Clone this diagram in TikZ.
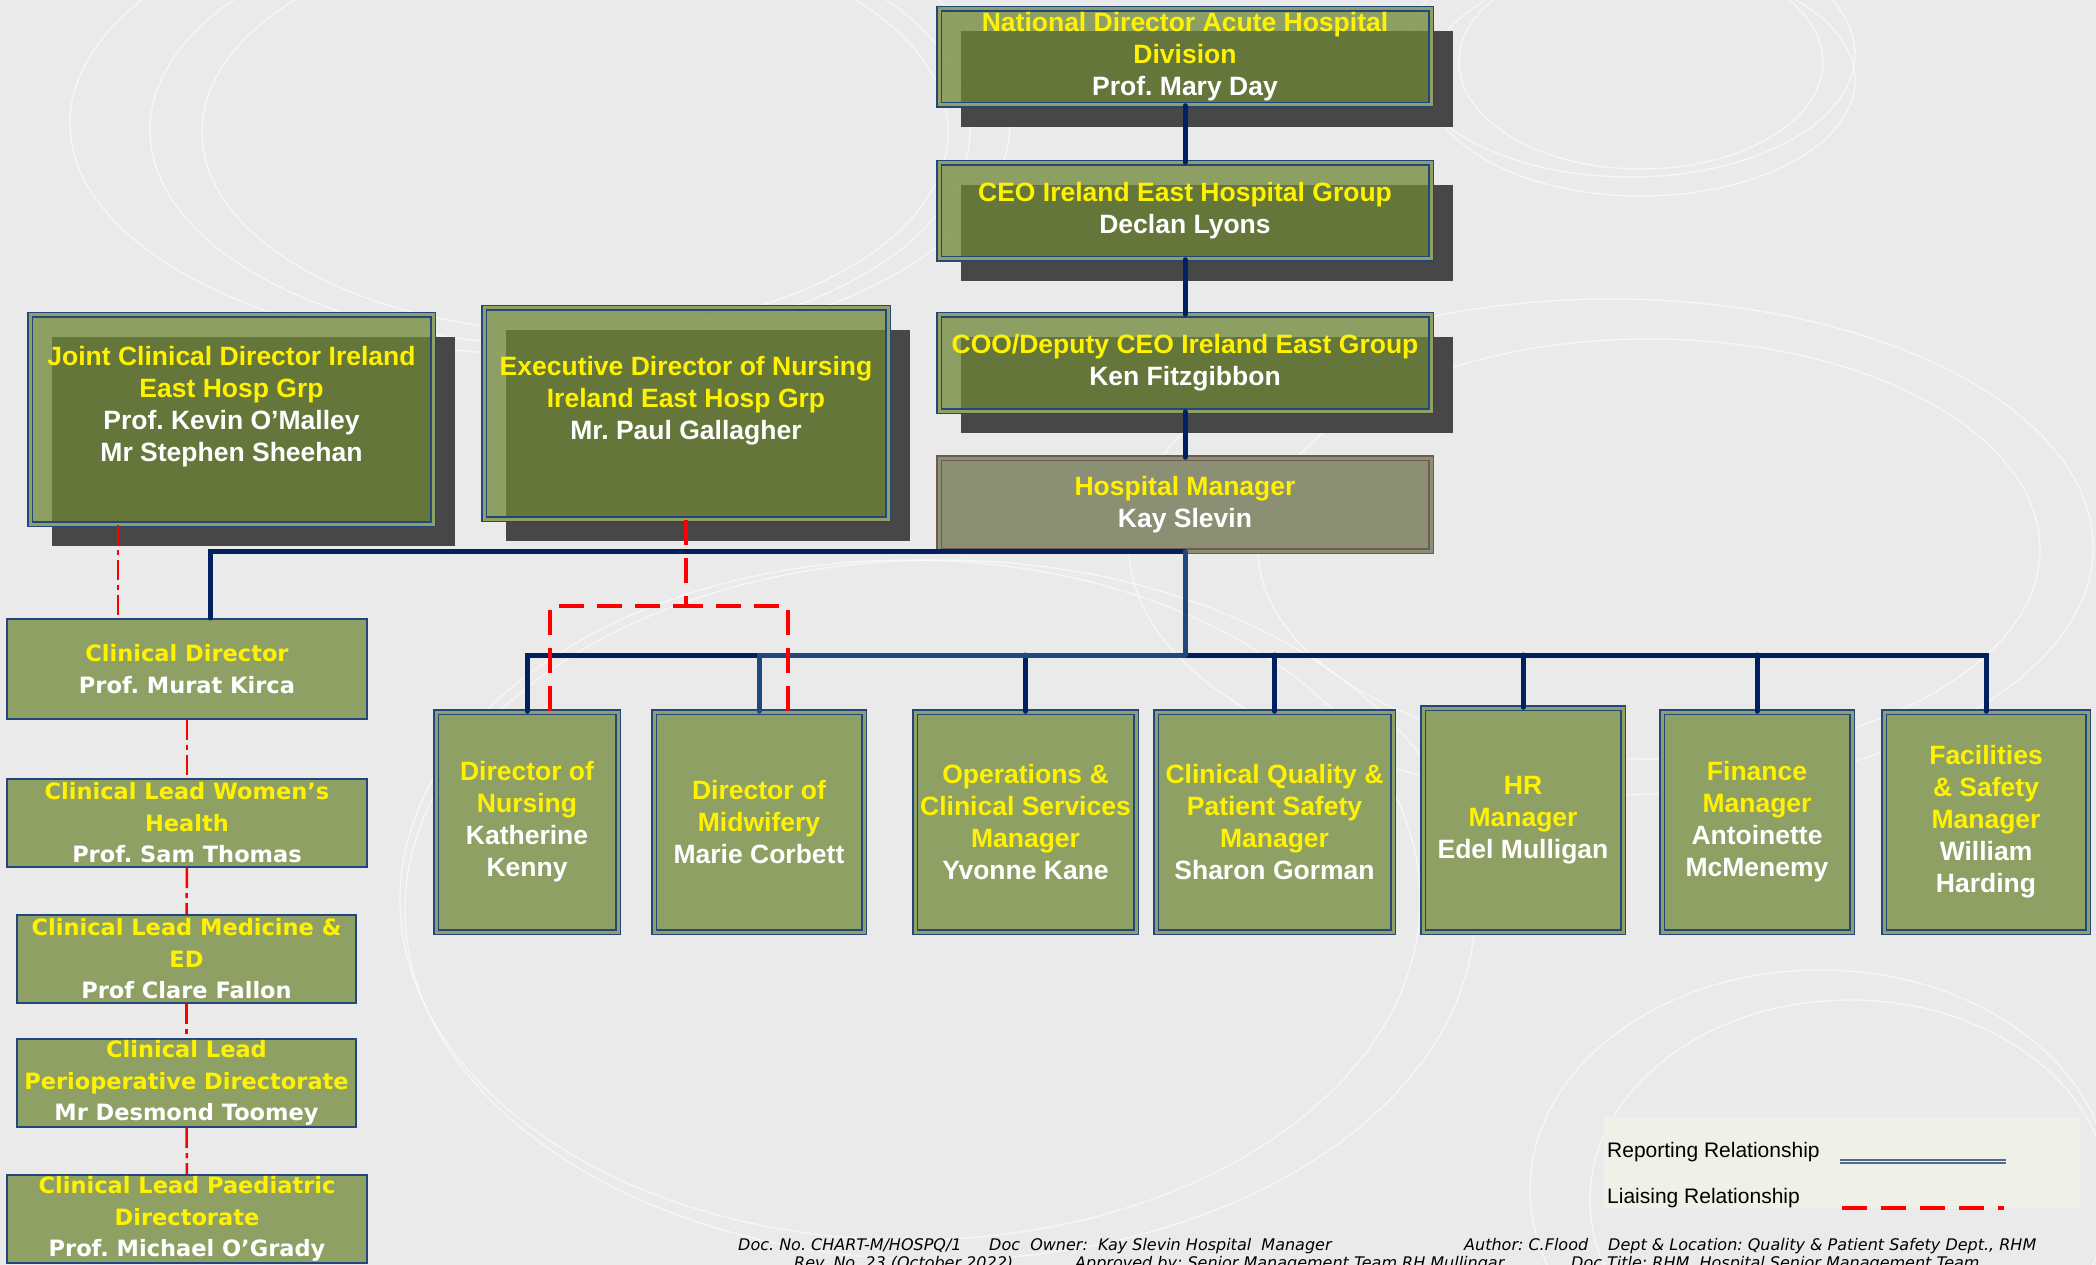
\documentclass[tikz,border=0pt]{standalone}
\usepackage{fontspec}
\setmainfont{Liberation Sans}
\newfontfamily\vfont{DejaVu Sans}
\usepackage{tikz}
\usetikzlibrary{shadows}
\frenchspacing

\definecolor{bgcol}{RGB}{234,234,234}
\definecolor{olivel}{RGB}{143,160,101}
\definecolor{oliveg}{RGB}{112,135,56}
\definecolor{shadowg}{RGB}{71,71,71}
\definecolor{navyb}{RGB}{35,70,125}
\definecolor{navyd}{RGB}{0,32,96}
\definecolor{navyl}{RGB}{31,73,125}
\definecolor{hmfill}{RGB}{139,143,116}
\definecolor{hmbrown}{RGB}{110,90,78}
\definecolor{legbg}{RGB}{239,241,232}
\definecolor{legblue}{RGB}{84,104,144}

\newcommand{\pname}[1]{\textcolor{white}{#1}}

\tikzset{
    topnode/.style = {rectangle, draw=navyb, line width=1.5pt, double=olivel, double distance=3pt, fill=oliveg, fill opacity=0.75, text opacity=1, align=center, inner sep=0pt, text=yellow, font=\bfseries\fontsize{26.5}{32}\selectfont, general shadow={draw=none, fill=shadowg, fill opacity=1, shadow xshift=22pt, shadow yshift=-22pt}},
    hmnode/.style = {rectangle, draw=hmbrown, line width=1.5pt, double=hmfill, double distance=3pt, fill=hmfill, align=center, inner sep=0pt, text=yellow, font=\bfseries\fontsize{26.5}{32}\selectfont},
    botnode/.style = {rectangle, draw=navyb, line width=1.5pt, double=olivel, double distance=3pt, fill=olivel, align=center, inner sep=0pt, text=yellow, font=\bfseries\fontsize{26.5}{32}\selectfont, minimum height=220pt},
    leftnode/.style = {rectangle, draw=navyb, line width=2pt, fill=olivel, align=center, inner sep=0pt, text=yellow, font=\vfont\bfseries\fontsize{22.5}{31.5}\selectfont, minimum height=88pt},
    legtext/.style = {anchor=west, inner sep=0pt, font=\fontsize{21}{24}\selectfont, text=black},
    foottext/.style = {anchor=base west, inner sep=0pt, font=\vfont\itshape\fontsize{16}{18}\selectfont, text=black},
    edgen/.style = {-, line width=5pt, navyd, line cap=round},
    edgel/.style = {-, line width=5pt, navyl, line cap=round},
    liaisedash/.style = {-, line width=3.5pt, red, dash pattern=on 25pt off 13pt}, % exec
    liaisedot/.style = {-, line width=2.5pt, red, dash pattern=on 20pt off 5pt on 5pt off 5pt}, % clinical
    legrep/.style = {draw=legblue, line width=2pt, double=legbg, double distance=1pt},
    legliaise/.style = {draw=red, line width=4pt, dash pattern=on 25pt off 14pt},
    swirl/.style = {draw=white, line width=1.3pt, opacity=0.6}
}

\begin{document}
\begin{tikzpicture}[x=1pt,y=-1pt]
\useasboundingbox (0,0) rectangle (2096,1265);
\fill[bgcol] (0,0) rectangle (2096,1265);

% background swirls
\draw[swirl] (540,123) ellipse [x radius=470, y radius=231];
\draw[swirl] (560,130) ellipse [x radius=410, y radius=215];
\draw[swirl] (575,132) ellipse [x radius=373, y radius=200];
\draw[swirl] (1641,62) ellipse [x radius=182, y radius=107];
\draw[swirl] (1630,54) ellipse [x radius=225, y radius=123];
\draw[swirl] (1641,80) ellipse [x radius=214, y radius=116];
\draw[swirl] (1611,547) ellipse [x radius=482, y radius=248];
\draw[swirl] (1649,549) ellipse [x radius=391, y radius=210];
\draw[swirl] (910,900) ellipse [x radius=510, y radius=340];
\draw[swirl] (940,910) ellipse [x radius=535, y radius=350];
\draw[swirl] (1820,1190) ellipse [x radius=290, y radius=220];
\draw[swirl] (1850,1200) ellipse [x radius=260, y radius=200];

% group level
\node[topnode, minimum width=492pt, minimum height=96pt] at (1185, 57) (nat) {National Director Acute Hospital\\Division\\\pname{Prof. Mary Day}};
\node[topnode, minimum width=492pt, minimum height=96pt] at (1185, 211) (ceo) {CEO Ireland East Hospital Group\\\pname{Declan Lyons}};
\node[topnode, minimum width=492pt, minimum height=96pt] at (1185, 363) (coo) {COO/Deputy CEO Ireland East Group\\\pname{Ken Fitzgibbon}};
\node[hmnode, minimum width=492pt, minimum height=93pt] at (1185, 504.5) (hm) {Hospital Manager\\\pname{Kay Slevin}};
\node[topnode, minimum width=403pt, minimum height=209pt] at (231.5, 419.5) (joint) {Joint Clinical Director Ireland\\East Hosp Grp\\\pname{Prof. Kevin O’Malley}\\\pname{Mr Stephen Sheehan}\\\mbox{}};
\node[topnode, minimum width=404pt, minimum height=211pt] at (686, 413.5) (exec) {Executive Director of Nursing\\Ireland East Hosp Grp\\\pname{Mr. Paul Gallagher}\\\mbox{}};

% clinical leads
\node[leftnode, minimum width=360pt, minimum height=100pt] at (187, 669) (cd) {Clinical Director\\\pname{Prof. Murat Kirca}};
\node[leftnode, minimum width=360pt] at (187, 823) (wh) {Clinical Lead Women’s\\Health\\\pname{Prof. Sam Thomas}};
\node[leftnode, minimum width=339pt] at (186.5, 959) (med) {Clinical Lead Medicine \&\\ED\\\pname{Prof Clare Fallon}};
\node[leftnode, minimum width=339pt] at (186.5, 1083) (periop) {Clinical Lead\\Perioperative Directorate\\\pname{Mr Desmond Toomey}};
\node[leftnode, minimum width=360pt] at (187, 1219) (paed) {Clinical Lead Paediatric\\Directorate\\\pname{Prof. Michael O’Grady}};

% hospital managers
\node[botnode, minimum width=182pt] at ( 527, 822) (b1) {Director of\\Nursing\\\pname{Katherine}\\\pname{Kenny}};
\node[botnode, minimum width=210pt] at ( 759, 822) (b2) {Director of\\Midwifery\\\pname{Marie Corbett}};
\node[botnode, minimum width=221pt] at (1025.5, 822) (b3) {Operations \&\\Clinical Services\\Manager\\\pname{Yvonne Kane}};
\node[botnode, minimum width=237pt] at (1274.5, 822) (b4) {Clinical Quality \&\\Patient Safety\\Manager\\\pname{Sharon Gorman}};
\node[botnode, minimum width=200pt, minimum height=224pt] at (1523, 820) (b5) {HR\\Manager\\\pname{Edel Mulligan}};
\node[botnode, minimum width=190pt] at (1757, 822) (b6) {Finance\\Manager\\\pname{Antoinette}\\\pname{McMenemy}};
\node[botnode, minimum width=204pt] at (1986, 822) (b7) {Facilities\\\& Safety\\Manager\\\pname{William}\\\pname{Harding}};

% reporting lines
\draw[edgen] (nat) edge (ceo);
\draw[edgen] (ceo) edge (coo);
\draw[edgen] (coo) edge (hm);
\coordinate (bus) at (1185, 655);
\draw[edgen] ([xshift=23pt]cd.north) |- (hm.south);
\draw[edgen] (b1.north) |- (bus) -| (b7.north);
\foreach \b in {b3,b4,b5,b6}
    \draw[edgen] (\b.north) -- (\b.north |- bus);
\draw[edgel] (b2.north) |- (bus);
\draw[edgel] (hm.south) -- (bus);

% liaising lines
\coordinate (lsplit) at (686, 606);
\draw[liaisedash] (exec.south) -- (lsplit);
\draw[liaisedash] ([xshift=23pt]b1.north) |- (lsplit);
\draw[liaisedash] ([xshift=29pt]b2.north) |- (lsplit);
\draw[liaisedot] ([xshift=-113.5pt]joint.south) -- ([xshift=-69pt]cd.north);
\foreach \a/\b in {cd/wh, wh/med, med/periop, periop/paed}
    \draw[liaisedot] (\a.south) -- (\b.north);

% legend
\node[fill=legbg, minimum width=476pt, minimum height=91pt, inner sep=0pt] at (1842, 1162.5) (legend) {};
\node[legtext] at (1607, 1152) (reptext) {Reporting Relationship};
\node[legtext] at (1607, 1198) (liatext) {Liaising Relationship};
\coordinate (repa) at (1840, 1161);
\coordinate (repb) at (2006, 1161);
\draw[legrep] (repa) -- (repb);
\coordinate (liaa) at (1842, 1208);
\coordinate (liab) at (2004, 1208);
\draw[legliaise] (liaa) -- (liab);

% footer
\node[foottext] at ( 738, 1250) (docno) {Doc. No. CHART-M/HOSPQ/1};
\node[foottext] at ( 989, 1250) (owner) {Doc~ Owner:~ Kay Slevin Hospital~ Manager};
\node[foottext] at (1464, 1250) (author) {Author: C.Flood};
\node[foottext] at (1608, 1250) (dept) {Dept \& Location: Quality \& Patient Safety Dept., RHM};
\node[foottext] at ( 794, 1268) (rev) {Rev. No. 23 (October 2022)};
\node[foottext] at (1075, 1268) (approved) {Approved by: Senior Management Team RH Mullingar};
\node[foottext] at (1571, 1268) (title) {Doc Title: RHM~ Hospital Senior Management Team};

\end{tikzpicture}
\end{document}
